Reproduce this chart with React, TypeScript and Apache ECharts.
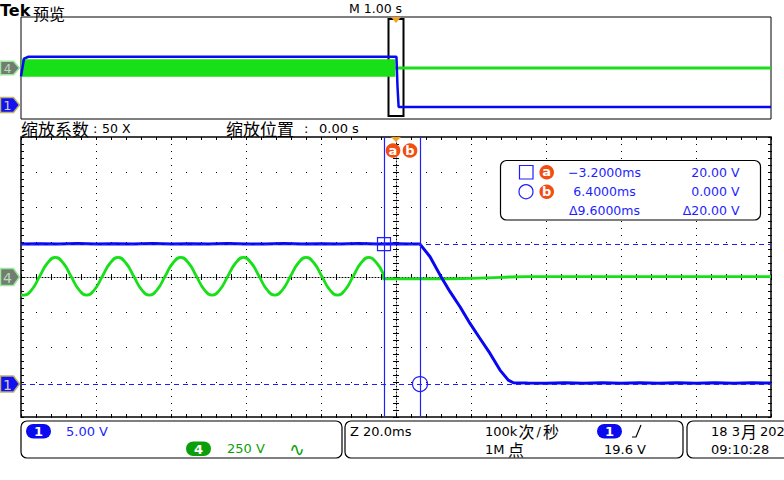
import React, { useEffect, useRef } from "react";
import * as echarts from "echarts";

// ---------- scope settings ----------
const T_MIN = -100; // ms (zoomed window)
const T_MAX = 100;
const T_DIV = 20; // ms / div
const OV_T_MIN = -5; // s (overview record)
const OV_T_MAX = 5;
const CH4_PER_DIV = 250; // V / div
const CH1_PER_DIV = 5; // V / div
const CH1_OFFSET_DIV = 3.06; // ch1 ground below centre, in divisions
const ZOOM_WINDOW = [-0.1, 0.1]; // s
const CURSOR_A = { t: -3.2, v: 20 };
const CURSOR_B = { t: 6.4, v: 0 };

// ---------- main (zoomed) traces ----------
const ch1Time = [
  -100, -95, -90, -85, -80, -75, -70, -65, -60, -55, -50, -45, -40, -35, -30, -25, -20, -15, -10, -5, 0, 4, 6.4,
  9.07, 11.73, 14.4, 17.07, 19.73, 22.4, 25.07, 27.73, 29.95, 31.3,
  35, 40, 45, 50, 55, 60, 65, 70, 75, 80, 85, 90, 95, 100,
];
const ch1Volts = [
  20.0, 20.05, 20.0, 20.1, 20.0, 20.05, 20.0, 20.1, 20.0, 20.05, 20.0, 20.1, 20.0, 20.0, 20.1, 20.0, 20.05, 20.0, 20.1, 20.0, 20.05, 20.0, 20.0,
  18.2, 15.6, 13.2, 11.05, 8.67, 6.52, 4.38, 2.0, 0.57, 0.19,
  0.15, 0.12, 0.2, 0.12, 0.18, 0.12, 0.2, 0.12, 0.18, 0.12, 0.2, 0.12, 0.18, 0.15,
];

const ch4Time = [
  -100, -99.2, -97.11, -95.02, -92.93, -90.84, -88.75, -86.66, -84.57, -82.48, -80.39,
  -78.3, -76.21, -74.12, -72.03, -69.94, -67.85, -65.76, -63.67, -61.58, -59.49,
  -57.4, -55.31, -53.22, -51.13, -49.04, -46.95, -44.86, -42.77, -40.68, -38.59,
  -36.5, -34.41, -32.32, -30.23, -28.14, -26.05, -23.96, -21.87, -19.78, -17.69,
  -15.6, -13.51, -11.42, -9.33, -7.24, -5.15, -3.5, -3.2,
  10, 20, 28, 35, 60, 80, 100,
];
const ch4Volts = [
  -129, -130, -90, 5, 100, 140, 100, 5, -90, -130, -90,
  5, 100, 140, 100, 5, -90, -130, -90, 5, 100,
  140, 100, 5, -90, -130, -90, 5, 100, 140, 100,
  5, -90, -130, -90, 5, 100, 140, 100, 5, -90,
  -130, -90, 5, 100, 140, 100, 28, -14,
  -14, -10, -2, 2, 2, 3, 2,
];

// ---------- overview (whole record) ----------
const ovCh1Time = [-5, -4.96, -4.9, 0.006, 0.02, 0.035, 5];
const ovCh1Volts = [12, 19, 19.7, 19.7, 8, 0, 0];
const ovBandTime = [-5, -0.01];
const ovBandUpper = [160, 160];
const ovBandLower = [-160, -160];
const ovCh4Time = [-0.01, 5];
const ovCh4Volts = [0, 0];

// ---------- readout texts ----------
const readoutTimes = ["\u22123.2000ms", "6.4000ms", "\u03949.6000ms"];
const readoutVolts = ["20.00 V", "0.000 V", "\u039420.00 V"];

const GREEN = "#18e018";
const BLUE = "#0808f0";
const CBLUE = "#1e1eff";
const ORANGE = "#f04e12";
const TRIG = "#f5a020";
const LAT = '"DejaVu Sans"';
const CJK = '"Noto Sans CJK SC"';

const zip = (a: number[], b: number[]) => a.map((t, i) => [t, b[i]]);

const txt = (text: string, x: number, y: number, o: any = {}) => ({
  type: "text",
  x,
  y,
  z: o.z || 100,
  style: {
    text,
    fill: o.fill || "#000",
    font: o.font || `13px ${LAT}`,
    align: o.align || "left",
    verticalAlign: "middle",
    lineHeight: o.lineHeight,
  },
});

const marker = (cy: number, h: number, fill: string, stroke: string, label: string, lc: string, fs: number) => [
  {
    type: "polygon",
    z: 100,
    shape: { points: [[0.5, cy - h], [13.5, cy - h], [19.5, cy], [13.5, cy + h], [0.5, cy + h]] },
    style: { fill, stroke, lineWidth: 1.5 },
  },
  txt(label, 7.5, cy + 0.5, { fill: lc, font: `${fs}px ${LAT}`, align: "center", z: 101 }),
];

const pill = (x: number, y: number, fill: string, label: string) => [
  { type: "rect", z: 100, shape: { x, y, width: 25, height: 14.5, r: 7.2 }, style: { fill } },
  txt(label, x + 12.5, y + 7.5, { fill: "#fff", font: `bold 13px ${LAT}`, align: "center", z: 101 }),
];

const orangeDot = (cx: number, cy: number, label: string) => [
  { type: "circle", z: 101, shape: { cx, cy, r: 7.3 }, style: { fill: ORANGE } },
  txt(label, cx, cy - 0.5, { fill: "#fff", font: `bold 13px ${LAT}`, align: "center", z: 102 }),
];

const tickAxisBase = {
  axisLine: { show: false, onZero: false },
  axisLabel: { show: false },
  axisTick: { show: true, inside: true, length: 3, lineStyle: { color: "#000", width: 1 } },
  minorTick: { show: true, splitNumber: 5, length: 3, lineStyle: { color: "#000", width: 1 } },
  splitLine: { show: false },
};

const centreLine = { show: true, onZero: false, lineStyle: { color: "#000", width: 1, type: [1, 2] } };

export default function App() {
  const ref = useRef<HTMLDivElement>(null);
  useEffect(() => {
    const chart = echarts.init(ref.current!, null, { renderer: "svg" });
    const ch1Min = (-4 + CH1_OFFSET_DIV) * CH1_PER_DIV;
    const ch1Max = (4 + CH1_OFFSET_DIV) * CH1_PER_DIV;
    const ch4Min = -4 * CH4_PER_DIV;
    const ch4Max = 4 * CH4_PER_DIV;
    const cjk16 = `16px ${CJK}`;

    const graphic: any[] = [
      txt("Tek", 0, 10, { font: `bold 16px ${LAT}`, lineHeight: 16 }),
      txt("预览", 33, 12.5, { font: `16px ${CJK}`, lineHeight: 16 }),
      txt("M 1.00 s", 349, 8.5, { font: `12.5px ${LAT}`, lineHeight: 13 }),
      { type: "polygon", z: 100, shape: { points: [[391, 17], [401, 17], [396, 23]] }, style: { fill: TRIG } },
      txt("缩放系数", 21, 128, { font: `17px ${CJK}`, lineHeight: 17 }),
      txt(":", 93, 128, { font: `13px ${LAT}` }),
      txt("50 X", 102, 128, { font: `12.5px ${LAT}` }),
      txt("缩放位置", 226, 128, { font: `17px ${CJK}`, lineHeight: 17 }),
      txt(":", 304, 128, { font: `13px ${LAT}` }),
      txt("0.00 s", 319, 128, { font: `13px ${LAT}` }),
      { type: "polygon", z: 100, shape: { points: [[391, 137], [401, 137], [396, 142]] }, style: { fill: TRIG } },
      ...orangeDot(393, 150.5, "a"),
      ...orangeDot(410, 150.5, "b"),
      // markers
      ...marker(68, 6.8, "#727d72", "#9de89d", "4", "#b8dcb8", 12),
      ...marker(105, 7.5, "#1212ee", "#c0b070", "1", "#d0d0d0", 13),
      ...marker(277, 8.5, "#727d72", "#9de89d", "4", "#b8dcb8", 14),
      ...marker(384, 8, "#1212ee", "#c0b070", "1", "#d0d0d0", 14),
      // readout box
      {
        type: "rect",
        z: 99,
        shape: { x: 500.5, y: 160.5, width: 260, height: 59.5, r: 6 },
        style: { fill: "#fff", stroke: "#000", lineWidth: 1.2 },
      },
      { type: "rect", z: 100, shape: { x: 519.5, y: 165.5, width: 13.5, height: 13.5 }, style: { fill: "none", stroke: CBLUE, lineWidth: 1.2 } },
      { type: "circle", z: 100, shape: { cx: 526, cy: 191.7, r: 7 }, style: { fill: "none", stroke: CBLUE, lineWidth: 1.2 } },
      ...orangeDot(546.7, 172.3, "a"),
      ...orangeDot(546.7, 191.7, "b"),
      ...readoutTimes.map((s, i) => txt(s, 604.5, 172.5 + i * 19, { fill: CBLUE, font: `12.5px ${LAT}`, align: "center" })),
      ...readoutVolts.map((s, i) => txt(s, 739.5, 172.5 + i * 19, { fill: CBLUE, font: `12.5px ${LAT}`, align: "right" })),
      // status bar
      { type: "rect", z: 100, shape: { x: 21, y: 421, width: 321, height: 37, r: 6 }, style: { fill: "none", stroke: "#000", lineWidth: 1.2 } },
      { type: "rect", z: 100, shape: { x: 345, y: 421, width: 338, height: 37, r: 6 }, style: { fill: "none", stroke: "#000", lineWidth: 1.2 } },
      { type: "rect", z: 100, shape: { x: 687, y: 421, width: 110, height: 37, r: 6 }, style: { fill: "none", stroke: "#000", lineWidth: 1.2 } },
      ...pill(26, 424, "#0a0af0", "1"),
      txt("5.00 V", 66, 431, { fill: CBLUE }),
      ...pill(186, 441.5, "#0a9f0a", "4"),
      txt("250 V", 227, 448.5, { fill: "#0a9f0a" }),
      txt("\u223F", 289, 448.5, { fill: "#0a9f0a", font: `19px ${LAT}`, lineHeight: 16 }),
      txt("Z 20.0ms", 350, 431),
      txt("100k", 485, 431),
      txt("次", 518.5, 430.5, { font: cjk16, lineHeight: 16 }),
      txt("/", 536.5, 431),
      txt("秒", 543, 430.5, { font: cjk16, lineHeight: 16 }),
      ...pill(597, 424, "#0a0af0", "1"),
      { type: "polyline", z: 100, shape: { points: [[632, 437], [636, 437], [641, 425]] }, style: { stroke: "#000", lineWidth: 1.2, fill: "none" } },
      txt("1M", 485, 449),
      txt("点", 508, 448.5, { font: cjk16, lineHeight: 16 }),
      txt("19.6 V", 604, 449),
      txt("18 3", 711, 431),
      txt("月", 741, 430.5, { font: cjk16, lineHeight: 16 }),
      txt("202", 760, 431),
      txt("09:10:28", 711, 449),
    ];

    const option: any = {
      animation: false,
      backgroundColor: "#fff",
      grid: [
        { left: 21, top: 17, width: 750, height: 102, show: true, borderColor: "#000", borderWidth: 1, backgroundColor: "#fff", outerBoundsMode: "none" },
        { left: 21, top: 137, width: 750, height: 280, show: true, borderColor: "#000", borderWidth: 1.5, backgroundColor: "#fff", outerBoundsMode: "none" },
        { left: 21, top: 137, width: 750, height: 140, outerBoundsMode: "none" },
        { left: 21, top: 277, width: 750, height: 140, outerBoundsMode: "none" },
        { left: 21, top: 137, width: 375, height: 280, outerBoundsMode: "none" },
        { left: 396, top: 137, width: 375, height: 280, outerBoundsMode: "none" },
      ],
      xAxis: [
        { gridIndex: 0, type: "value", min: OV_T_MIN, max: OV_T_MAX, show: false },
        {
          gridIndex: 1, type: "value", min: T_MIN, max: T_MAX, interval: T_DIV, position: "bottom",
          ...tickAxisBase,
          splitLine: { show: true, lineStyle: { color: "#000", width: 1, type: [1, 6] } },
        },
        { gridIndex: 1, type: "value", min: T_MIN, max: T_MAX, interval: T_DIV, position: "top", ...tickAxisBase },
        { gridIndex: 2, type: "value", min: T_MIN, max: T_MAX, interval: T_DIV, position: "bottom", ...tickAxisBase, axisLine: centreLine },
        { gridIndex: 3, type: "value", min: T_MIN, max: T_MAX, interval: T_DIV, position: "top", ...tickAxisBase },
        { gridIndex: 4, type: "value", min: 0, max: 1, show: false },
        { gridIndex: 5, type: "value", min: 0, max: 1, show: false },
      ],
      yAxis: [
        { gridIndex: 0, type: "value", min: ch4Min, max: ch4Max, show: false },
        { gridIndex: 0, type: "value", min: ch1Min, max: ch1Max, show: false },
        {
          gridIndex: 1, type: "value", min: ch4Min, max: ch4Max, interval: CH4_PER_DIV, position: "left",
          ...tickAxisBase,
          splitLine: { show: true, lineStyle: { color: "#000", width: 1, type: [1, 14] } },
        },
        { gridIndex: 1, type: "value", min: -4, max: 4, interval: 1, position: "right", ...tickAxisBase },
        { gridIndex: 1, type: "value", min: ch1Min, max: ch1Max, show: false },
        { gridIndex: 2, type: "value", min: 0, max: 1, show: false },
        { gridIndex: 3, type: "value", min: 0, max: 1, show: false },
        { gridIndex: 4, type: "value", min: -4, max: 4, interval: 1, position: "right", ...tickAxisBase, axisLine: centreLine },
        { gridIndex: 5, type: "value", min: -4, max: 4, interval: 1, position: "left", ...tickAxisBase },
      ],
      series: [
        {
          type: "line", name: "CH4 band +", xAxisIndex: 0, yAxisIndex: 0, data: zip(ovBandTime, ovBandUpper),
          symbol: "none", lineStyle: { color: GREEN, width: 1 }, areaStyle: { color: GREEN, opacity: 1 }, silent: true,
        },
        {
          type: "line", name: "CH4 band -", xAxisIndex: 0, yAxisIndex: 0, data: zip(ovBandTime, ovBandLower),
          symbol: "none", lineStyle: { color: GREEN, width: 1 }, areaStyle: { color: GREEN, opacity: 1 }, silent: true,
        },
        {
          type: "line", name: "CH4 overview", xAxisIndex: 0, yAxisIndex: 0, data: zip(ovCh4Time, ovCh4Volts),
          symbol: "none", lineStyle: { color: GREEN, width: 3 }, silent: true,
          markArea: {
            silent: true,
            itemStyle: { color: "rgba(0,0,0,0)", borderColor: "#000", borderWidth: 2 },
            label: { show: false },
            data: [[{ xAxis: ZOOM_WINDOW[0], yAxis: 960 }, { xAxis: ZOOM_WINDOW[1], yAxis: -940 }]],
          },
        },
        {
          type: "line", name: "CH1 overview", xAxisIndex: 0, yAxisIndex: 1, data: zip(ovCh1Time, ovCh1Volts),
          symbol: "none", lineStyle: { color: BLUE, width: 2.5 }, silent: true,
        },
        {
          type: "line", name: "CH4", xAxisIndex: 1, yAxisIndex: 2, data: zip(ch4Time, ch4Volts),
          symbol: "none", smooth: 0.5, lineStyle: { color: GREEN, width: 2.8 }, silent: true,
        },
        {
          type: "line", name: "CH1", xAxisIndex: 1, yAxisIndex: 4, data: zip(ch1Time, ch1Volts),
          symbol: "none", lineStyle: { color: BLUE, width: 3 }, silent: true,
          markLine: {
            silent: true,
            symbol: ["none", "none"],
            label: { show: false },
            lineStyle: { color: CBLUE, width: 1.2, type: "solid" },
            data: [
              { xAxis: CURSOR_A.t },
              { xAxis: CURSOR_B.t },
              { yAxis: CURSOR_A.v, lineStyle: { type: [5, 4], width: 1 } },
              { yAxis: CURSOR_B.v, lineStyle: { type: [5, 4], width: 1 } },
            ],
          },
          markPoint: {
            silent: true,
            label: { show: false },
            itemStyle: { color: "rgba(0,0,0,0)", borderColor: CBLUE, borderWidth: 1.2 },
            data: [
              { coord: [CURSOR_A.t, CURSOR_A.v], symbol: "rect", symbolSize: 13 },
              { coord: [CURSOR_B.t, CURSOR_B.v], symbol: "circle", symbolSize: 15 },
            ],
          },
        },
      ],
      graphic,
    };
    chart.setOption(option);
    return () => chart.dispose();
  }, []);
  return (
    <div
      ref={ref}
      style={{ position: "fixed", left: 0, top: 0, width: 784, height: 480, background: "#fff" }}
    />
  );
}
